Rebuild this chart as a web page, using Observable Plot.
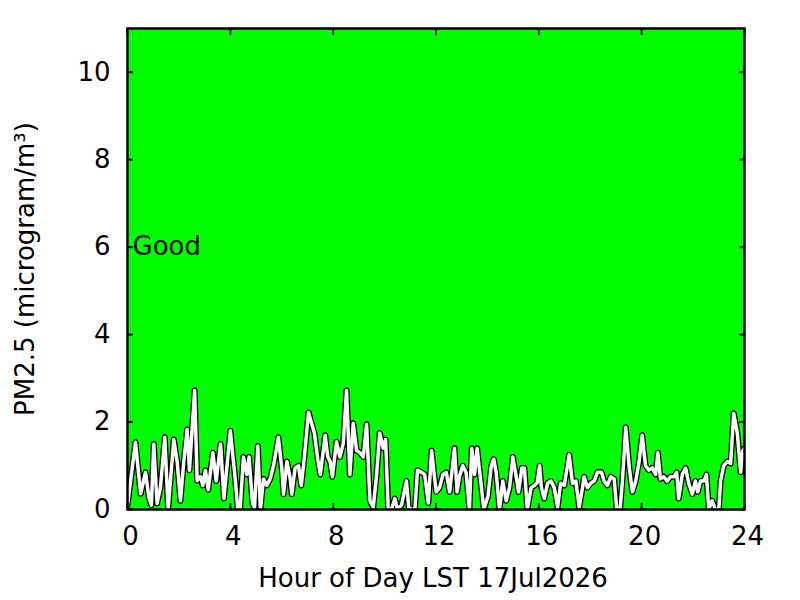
<!DOCTYPE html>
<html>
<head>
<meta charset="utf-8">
<script src="https://cdn.jsdelivr.net/npm/d3@7"></script>
<script src="https://cdn.jsdelivr.net/npm/@observablehq/plot@0.6"></script>
<style>
  html, body { margin: 0; padding: 0; background: #ffffff; }
  #chart svg { display: block; }
</style>
</head>
<body>
<div id="chart"></div>
<script>
// Hour of day (LST) samples
const hours = [
  0.00, 0.31, 0.51, 0.70, 0.83, 0.93, 1.02, 1.15, 1.28, 1.45, 1.58, 1.80, 1.93, 2.06, 2.19, 2.32, 2.41, 2.61, 2.71, 2.84,
  2.93, 3.03, 3.14, 3.32, 3.45, 3.62, 3.75, 4.00, 4.19, 4.29, 4.38, 4.51, 4.64, 4.73, 4.86, 4.94, 5.07, 5.17, 5.29, 5.42,
  5.55, 5.68, 5.87, 6.00, 6.07, 6.20, 6.33, 6.39, 6.52, 6.65, 6.76, 6.88, 7.04, 7.17, 7.27, 7.40, 7.50, 7.69, 7.79, 7.88,
  7.97, 8.13, 8.26, 8.39, 8.52, 8.65, 8.78, 8.91, 9.04, 9.17, 9.30, 9.43, 9.56, 9.69, 9.81, 9.95, 10.04, 10.14, 10.27, 10.40,
  10.50, 10.66, 10.85, 10.94, 11.05, 11.18, 11.28, 11.44, 11.56, 11.70, 11.83, 11.95, 12.01, 12.14, 12.27, 12.40, 12.53, 12.72, 12.82, 12.91,
  13.04, 13.17, 13.30, 13.39, 13.50, 13.60, 13.73, 13.86, 14.02, 14.15, 14.25, 14.34, 14.47, 14.60, 14.73, 14.86, 14.99, 15.12, 15.21, 15.34,
  15.44, 15.55, 15.70, 15.83, 15.93, 16.03, 16.10, 16.21, 16.34, 16.47, 16.60, 16.73, 16.85, 16.99, 17.18, 17.31, 17.44, 17.57, 17.70, 17.76,
  17.89, 18.02, 18.15, 18.28, 18.44, 18.54, 18.67, 18.80, 18.93, 19.03, 19.16, 19.25, 19.38, 19.52, 19.64, 19.77, 19.90, 20.02, 20.15, 20.28,
  20.41, 20.54, 20.63, 20.73, 20.86, 20.99, 21.12, 21.25, 21.36, 21.44, 21.58, 21.71, 21.83, 21.97, 22.09, 22.18, 22.29, 22.42, 22.52, 22.61,
  22.74, 22.87, 23.00, 23.07, 23.19, 23.33, 23.46, 23.58, 23.72, 23.85, 23.94, 24.00
];
// PM2.5 concentration (microgram/m3)
const pm25 = [
  0.10, 1.54, 0.36, 0.85, 0.28, 0.10, 1.50, 0.14, 0.50, 1.65, 0.00, 1.60, 1.10, 0.20, 1.10, 1.83, 0.90, 2.72, 0.66, 0.75,
  0.55, 0.90, 0.45, 1.30, 0.65, 1.50, 0.25, 1.80, 0.70, 0.00, 0.00, 1.20, 0.80, 1.20, 0.15, 0.05, 1.45, 0.00, 0.70, 0.55,
  0.70, 1.00, 1.65, 0.95, 0.35, 1.10, 0.70, 0.35, 0.95, 1.00, 0.55, 1.20, 2.22, 1.95, 1.75, 1.15, 0.80, 1.70, 1.20, 1.10,
  0.75, 1.55, 1.20, 1.50, 2.72, 0.80, 1.97, 1.35, 1.30, 1.20, 1.95, 0.20, 0.05, 0.80, 1.75, 1.40, 1.60, 0.00, 0.00, 0.25,
  0.00, 0.10, 0.65, 0.05, 0.00, 0.00, 0.90, 0.85, 0.80, 0.15, 1.35, 0.70, 0.40, 0.50, 0.80, 0.85, 0.40, 1.40, 0.40, 0.75,
  1.00, 0.85, 0.00, 1.40, 0.80, 1.40, 0.70, 0.00, 0.30, 1.00, 1.15, 0.85, 0.00, 0.65, 0.20, 0.50, 1.20, 0.75, 0.40, 0.95,
  0.95, 0.00, 0.50, 0.55, 0.60, 1.00, 0.50, 0.25, 0.60, 0.65, 0.50, 0.05, 0.60, 0.55, 1.25, 0.60, 0.65, 0.05, 0.50, 0.75,
  0.50, 0.60, 0.65, 0.85, 0.85, 0.65, 0.55, 0.75, 0.70, 0.00, 0.00, 0.65, 1.88, 0.95, 0.40, 0.65, 1.10, 1.70, 1.00, 0.90,
  0.95, 0.80, 1.30, 0.70, 0.75, 0.65, 0.75, 0.75, 0.85, 0.25, 0.80, 0.95, 0.60, 0.35, 0.65, 0.40, 0.65, 0.65, 0.80, 0.00,
  0.20, 0.00, 0.00, 0.65, 1.00, 1.10, 1.05, 2.20, 1.75, 0.85, 1.35, 1.40
];
const xTicks = [0, 4, 8, 12, 16, 20, 24];
const yTicks = [0, 2, 4, 6, 8, 10];
const categoryLabels = [{x: 0, y: 6, text: "Good"}];
const xLabel = "Hour of Day LST 17Jul2026";
const yLabel = "PM2.5 (microgram/m³)";

const data = hours.map((h, i) => ({h, v: pm25[i]}));
const FONT = "DejaVu Sans, sans-serif";
const FS = 26;

const chart = Plot.plot({
  width: 800,
  height: 600,
  marginLeft: 127,
  marginRight: 56,
  marginTop: 28,
  marginBottom: 91,
  style: {fontFamily: FONT, fontSize: FS + "px", background: "#ffffff", overflow: "visible"},
  x: {domain: [0, 24]},
  y: {domain: [0, 11]},
  marks: [
    Plot.frame({fill: "#00ff00", stroke: null}),
    Plot.line(data, {x: "h", y: "v", stroke: "black", strokeWidth: 6, clip: true}),
    Plot.line(data, {x: "h", y: "v", stroke: "white", strokeWidth: 3.5, clip: true}),
    Plot.text(categoryLabels, {x: "x", y: "y", text: "text", textAnchor: "start", dx: 5, fill: "black", fontSize: FS}),
    // bottom tick labels (no tick lines) and inward tick marks
    Plot.axisX({ticks: xTicks, tickFormat: d => String(d), tickSize: 0, tickPadding: 17, dx: 3, fontSize: FS, label: null}),
    Plot.axisX({ticks: xTicks, tickFormat: () => "", tickSize: -6, strokeWidth: 2, label: null}),
    Plot.axisX({anchor: "top", ticks: xTicks, tickFormat: () => "", tickSize: -6, strokeWidth: 2, label: null}),
    Plot.axisY({ticks: yTicks, tickFormat: d => String(d), tickSize: -6, tickPadding: 23, strokeWidth: 2, fontSize: FS, label: null}),
    Plot.axisY({anchor: "right", ticks: yTicks, tickFormat: () => "", tickSize: -6, strokeWidth: 2, label: null}),
    Plot.frame({stroke: "black", strokeWidth: 2.5}),
    Plot.text([xLabel], {frameAnchor: "bottom", dy: 69, dx: -3, lineAnchor: "middle", textAnchor: "middle", text: d => d, fontSize: FS, fill: "black"}),
    Plot.text([yLabel], {frameAnchor: "left", dx: -102, rotate: -90, textAnchor: "middle", lineAnchor: "middle", text: d => d, fontSize: FS, fill: "black"})
  ]
});
document.getElementById("chart").appendChild(chart);
</script>
</body>
</html>
